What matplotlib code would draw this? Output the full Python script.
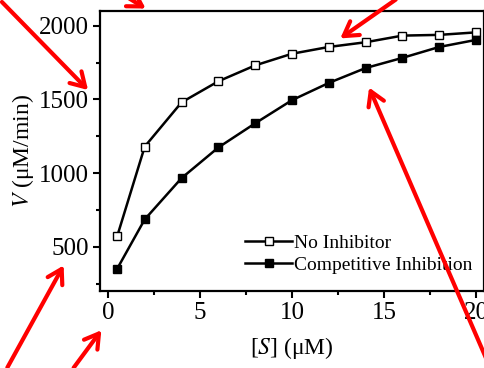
import matplotlib
matplotlib.use("Agg")
import matplotlib.pyplot as plt

plt.rcParams['font.family'] = ['Liberation Serif', 'DejaVu Serif']
plt.rcParams['mathtext.fontset'] = 'stix'

# substrate concentration (uM) and rates (uM/min)
s_conc = [0.5, 2, 4, 6, 8, 10, 12, 14, 16, 18, 20]
v_none = [570, 1180, 1480, 1623, 1731, 1810, 1856, 1888, 1933, 1938, 1955]
v_comp = [350, 686, 966, 1174, 1338, 1495, 1612, 1713, 1782, 1856, 1904]

labels = ["No Inhibitor", "Competitive Inhibition"]

# red pointer arrows drawn over the image (tail, head) in image pixels
arrows = [
    ((0, 0), (90, 92)),
    ((122, -6), (148, 10)),
    ((398, -2), (338, 40)),
    ((492, 372), (368, 85)),
    ((6, 370), (65, 263)),
    ((72, 370), (103, 328)),
]

W, H = 485, 368
fig = plt.figure(figsize=(W / 100, H / 100), dpi=100)
ax = fig.add_axes([100 / W, 1 - 291 / H, 384 / W, 280 / H])

ax.plot(s_conc, v_none, color="black", lw=1.8, marker="s", ms=6,
        mfc="white", mec="black", mew=1.0, label=labels[0])
ax.plot(s_conc, v_comp, color="black", lw=1.8, marker="s", ms=6,
        mfc="black", mec="black", label=labels[1])

ax.set_xlim(-0.43, 20.43)
ax.set_ylim(200, 2100)
ax.set_xticks([0, 5, 10, 15, 20])
ax.set_xticks([2.5, 7.5, 12.5, 17.5], minor=True)
ax.set_yticks([500, 1000, 1500, 2000])
ax.set_yticks([250, 750, 1250, 1750], minor=True)
ax.tick_params(which="major", direction="out", length=5, width=1.5,
               labelsize=18, pad=3)
ax.tick_params(which="minor", direction="out", length=3, width=1.5)
for sp in ax.spines.values():
    sp.set_linewidth(1.6)

ax.set_xlabel("[$S$] (μM)", fontsize=17, labelpad=8)
ax.set_ylabel("$V$ (μM/min)", fontsize=17, labelpad=2)

ax.legend(loc="lower right", bbox_to_anchor=(1.0, 0.02), frameon=False,
          fontsize=14, handlelength=2.4, handletextpad=0.1,
          labelspacing=0.2, borderaxespad=0.2)

for tail, head in arrows:
    fig.add_artist(matplotlib.patches.FancyArrowPatch(
        (tail[0] / W, 1 - tail[1] / H), (head[0] / W, 1 - head[1] / H),
        transform=fig.transFigure, arrowstyle="->,head_length=10,head_width=6",
        color="red", lw=3, clip_on=False))

fig.savefig("out.png", dpi=100)
